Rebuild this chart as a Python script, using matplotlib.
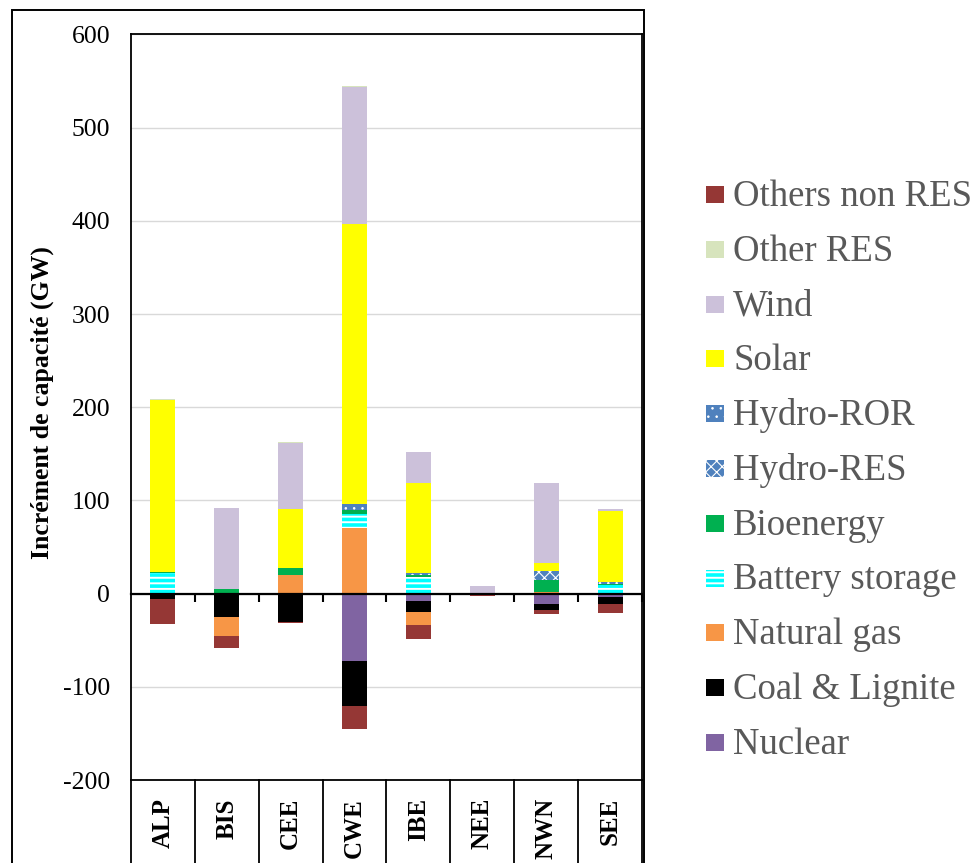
import numpy as np
import matplotlib
matplotlib.use("Agg")
import matplotlib.pyplot as plt
from matplotlib.patches import Rectangle
from matplotlib.lines import Line2D

# ---------------- data ----------------
categories = ["ALP", "BIS", "CEE", "CWE", "IBE", "NEE", "NWN", "SEE"]
series_names = ["Nuclear", "Coal & Lignite", "Natural gas", "Battery storage",
                "Bioenergy", "Hydro-RES", "Hydro-ROR", "Solar", "Wind",
                "Other RES", "Others non RES"]
nuclear        = [0, -1, -2, -72, -7.5, 0, -11, -3.5]
coal_lignite   = [-6, -24, -28, -48.5, -12, 0, -7, -8]
natural_gas    = [0, -21, 20.5, 70, -14, 0, 2, 0]
battery        = [22, 0, 0, 15.4, 17.5, 0, 0, 8.9]
bioenergy      = [1.5, 5, 7, 4.3, 2.2, 0, 12.5, 1.5]
hydro_res      = [0, 0, 0, 0, 0, 0, 9.5, 0]
hydro_ror      = [0, 0, 0, 6.4, 2.5, 0, 0, 2.5]
solar          = [184.5, 0, 63.5, 300.5, 96.4, 0, 8.6, 75.6]
wind           = [0, 87, 70.5, 147, 33.5, 8, 86.5, 2]
other_res      = [0.5, 0, 1, 1, 0, 0, 0, 0.5]
others_non_res = [-27, -12, -2, -25, -15, -2.5, -3.5, -9]
yticks = [-200, -100, 0, 100, 200, 300, 400, 500, 600]
ylabel = "Incrément de capacité (GW)"

series_values = [nuclear, coal_lignite, natural_gas, battery, bioenergy,
                 hydro_res, hydro_ror, solar, wind, other_res, others_non_res]

# style: (facecolor, hatch, hatchcolor, hatch_lw)
styles = {
    "Nuclear": ("#8064a2", None, None, 1.0),
    "Coal & Lignite": ("#000000", None, None, 1.0),
    "Natural gas": ("#f79646", None, None, 1.0),
    "Battery storage": ("#ffffff", "---", "#00ffff", 2.6),
    "Bioenergy": ("#00b050", None, None, 1.0),
    "Hydro-RES": ("#4f81bd", "xxx", "#ffffff", 0.8),
    "Hydro-ROR": ("#4f81bd", "..", "#ffffff", 0.6),
    "Solar": ("#ffff00", None, None, 1.0),
    "Wind": ("#ccc1da", None, None, 1.0),
    "Other RES": ("#d7e4bd", None, None, 1.0),
    "Others non RES": ("#953735", None, None, 1.0),
}

W, H = 979, 863
SERIF = ["Liberation Serif", "DejaVu Serif"]
plt.rcParams['font.family'] = SERIF

fig = plt.figure(figsize=(W / 100, H / 100), dpi=100)

def fx(px):
    return px / W

def fy(py):
    return 1 - py / H

ax_left, ax_right, ax_top, ax_bottom = 131, 642, 34.5, 780
ax = fig.add_axes([fx(ax_left), fy(ax_bottom), fx(ax_right) - fx(ax_left),
                   fy(ax_top) - fy(ax_bottom)])

x = np.arange(len(categories))
width = 0.39
pos_bottom = np.zeros(len(categories))
neg_bottom = np.zeros(len(categories))


def make_bars(vals, bottom, name):
    face, hatch, hcol, hlw = styles[name]
    with plt.rc_context({'hatch.linewidth': hlw}):
        if hatch:
            bars = ax.bar(x, vals, width, bottom=bottom, facecolor=face,
                          edgecolor=hcol, linewidth=0, hatch=hatch, zorder=2)
        else:
            bars = ax.bar(x, vals, width, bottom=bottom, color=face,
                          linewidth=0, zorder=2)
    if hatch:
        for b in bars:
            if hasattr(b, "set_hatch_linewidth"):
                b.set_hatch_linewidth(hlw)
    return bars


for name, vals in zip(series_names, series_values):
    v = np.array(vals, dtype=float)
    p = np.where(v > 0, v, 0)
    n = np.where(v < 0, v, 0)
    make_bars(p, pos_bottom, name)
    make_bars(n, neg_bottom, name)
    pos_bottom += p
    neg_bottom += n

ax.set_xlim(-0.5, len(categories) - 0.5)
ax.set_ylim(-200, 600)
ax.set_yticks(yticks)
ax.set_yticklabels([str(t) for t in yticks], fontsize=18.5)
ax.tick_params(axis='y', length=0, pad=15)
ax.yaxis.grid(True, color="#d9d9d9", linewidth=1.0, zorder=0)
ax.set_axisbelow(True)

ax.set_xticks(x)
ax.set_xticklabels(categories, rotation=90, fontsize=18, fontweight='bold')
ax.tick_params(axis='x', length=0, pad=13)

for s in ["left", "top", "bottom", "right"]:
    ax.spines[s].set_color("black")
    ax.spines[s].set_linewidth(1.3)

# zero axis with boundary ticks
sec = ax.secondary_xaxis(0.25)
sec.set_xticks(np.arange(0.5, len(categories), 1.0))
sec.set_xticklabels([])
sec.tick_params(axis='x', direction='out', length=5.5, width=1.5, color='black')
sec.spines['bottom'].set_linewidth(1.6)
sec.spines['bottom'].set_color('black')
sec.set_zorder(5)

# category box lines below the axes
trans = ax.get_xaxis_transform()
for b in np.arange(-0.5, len(categories), 1.0):
    ax.add_line(Line2D([b, b], [0, -0.2], transform=trans, color='black',
                       linewidth=1.3, clip_on=False))

# y label
fig.text(fx(42), fy(403), ylabel, rotation=90, ha='center', va='center',
         fontsize=18.5, fontweight='bold')

# outer frame
fig.add_artist(Rectangle((fx(11.5), fy(880)), fx(644.5) - fx(11.5),
                         fy(9.5) - fy(880), transform=fig.transFigure,
                         fill=False, edgecolor='black', linewidth=1.4))

# legend (manual, top = last series)
leg_names = list(reversed(series_names))
row0, step = 196.5, 54.8
for i, name in enumerate(leg_names):
    face, hatch, hcol, hlw = styles[name]
    cy = row0 + i * step
    with plt.rc_context({'hatch.linewidth': hlw}):
        if hatch:
            r = Rectangle((fx(706), fy(cy + 6.5)), fx(18), 17 / H,
                          transform=fig.transFigure, facecolor=face,
                          edgecolor=hcol, linewidth=0, hatch=hatch)
        else:
            r = Rectangle((fx(706), fy(cy + 6.5)), fx(18), 17 / H,
                          transform=fig.transFigure, facecolor=face,
                          linewidth=0)
    if hatch and hasattr(r, "set_hatch_linewidth"):
        r.set_hatch_linewidth(hlw)
    fig.add_artist(r)
    fig.text(fx(733), fy(cy), name, ha='left', va='center', fontsize=26.5,
             color='#595959')

fig.savefig("out.png", dpi=100)
